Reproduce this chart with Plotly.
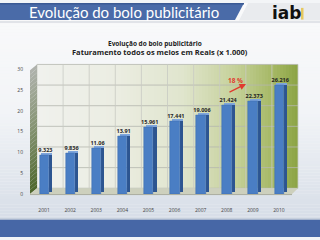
import plotly.graph_objects as go

years = ["2001", "2002", "2003", "2004", "2005", "2006", "2007", "2008", "2009", "2010"]
values = [9.323, 9.836, 11.06, 13.91, 15.961, 17.441, 19.006, 21.424, 22.373, 26.216]
value_labels = ["9.323", "9.836", "11.06", "13.91", "15.961", "17.441", "19.006", "21.424", "22.373", "26.216"]
y_ticks = [0, 5, 10, 15, 20, 25, 30]

W, H = 320, 240
def px(x): return x / W
def py(y): return 1 - y / H

def lerp(c1, c2, t):
    return tuple(int(round(a + (b - a) * t)) for a, b in zip(c1, c2))

def grad(stops, t):
    for (t1, c1), (t2, c2) in zip(stops, stops[1:]):
        if t <= t2:
            return lerp(c1, c2, (t - t1) / (t2 - t1) if t2 > t1 else 0)
    return stops[-1][1]

def rgb(c): return "rgb(%d,%d,%d)" % c

shapes = []
# page background (vertical gradient)
bg_stops = [(0, (250, 250, 251)), (0.5, (242, 244, 247)), (1, (214, 221, 231))]
for i in range(0, 222, 3):
    shapes.append(dict(type="rect", xref="paper", yref="paper", x0=0, x1=1,
                       y0=py(min(i + 3, 222)), y1=py(i), line=dict(width=0),
                       fillcolor=rgb(grad(bg_stops, i / 222)), layer="below"))
# header band
shapes.append(dict(type="path", xref="paper", yref="paper",
                   path="M 0 %f L %f %f L %f %f L 0 %f Z" % (py(0), px(244), py(0), px(235), py(17.5), py(17.5)),
                   fillcolor="#4a6ba8", line=dict(width=0), layer="below"))
shapes.append(dict(type="rect", xref="paper", yref="paper", x0=0, x1=px(244), y0=py(1.5), y1=1,
                   fillcolor="#3b5a94", line=dict(width=0), layer="below"))
shapes.append(dict(type="path", xref="paper", yref="paper",
                   path="M %f %f L 1 %f L 1 %f L %f %f Z" % (px(248), py(0), py(0), py(18), px(239), py(18)),
                   fillcolor="#e9ebee", line=dict(width=0), layer="below"))
shapes.append(dict(type="line", xref="paper", yref="paper", x0=0, x1=1, y0=py(19.5), y1=py(19.5),
                   line=dict(color="#c9ced6", width=1), layer="below"))
# bottom band
shapes.append(dict(type="rect", xref="paper", yref="paper", x0=0, x1=1, y0=0, y1=py(222),
                   fillcolor="#4767a6", line=dict(width=0), layer="below"))
shapes.append(dict(type="line", xref="paper", yref="paper", x0=0, x1=1, y0=py(221.5), y1=py(221.5),
                   line=dict(color="#b8c3d3", width=1), layer="below"))

# back wall gradient
wx0, wx1, wy0, wy1 = 37, 298, 63, 190
wall_stops = [(0, (240, 241, 237)), (0.3, (235, 237, 226)), (0.55, (224, 229, 205)),
              (0.75, (198, 209, 155)), (0.9, (165, 184, 100)), (1, (138, 162, 66))]
step = 3
x = wx0
while x < wx1:
    xe = min(x + step, wx1)
    shapes.append(dict(type="rect", xref="paper", yref="paper", x0=px(x), x1=px(xe),
                       y0=py(wy1), y1=py(wy0), line=dict(width=0),
                       fillcolor=rgb(grad(wall_stops, (x - wx0) / (wx1 - wx0))), layer="below"))
    x = xe
# back wall grid
for v in y_ticks:
    yy = wy1 - v * (wy1 - wy0) / 30
    shapes.append(dict(type="line", xref="paper", yref="paper", x0=px(wx0), x1=px(wx1),
                       y0=py(yy), y1=py(yy), line=dict(color="rgba(180,182,175,0.8)", width=1), layer="below"))
for k in range(11):
    xx = wx0 + k * (wx1 - wx0) / 10
    shapes.append(dict(type="line", xref="paper", yref="paper", x0=px(xx), x1=px(xx),
                       y0=py(wy1), y1=py(wy0), line=dict(color="rgba(200,202,195,0.8)", width=1), layer="below"))
# side wall (left), vertical gradient grey -> dark green
side_stops = [(0, (175, 178, 172)), (0.5, (130, 145, 110)), (1, (75, 100, 40))]
n = 30
for i in range(n):
    t0, t1 = i / n, (i + 1) / n
    bt0, bt1 = wy0 + (wy1 - wy0) * t0, wy0 + (wy1 - wy0) * t1
    shapes.append(dict(type="path", xref="paper", yref="paper",
                       path="M %f %f L %f %f L %f %f L %f %f Z" % (
                           px(37), py(bt0), px(37), py(bt1), px(30), py(bt1 + 6), px(30), py(bt0 + 6)),
                       fillcolor=rgb(grad(side_stops, t0)), line=dict(width=0), layer="below"))
# floor
shapes.append(dict(type="path", xref="paper", yref="paper",
                   path="M %f %f L %f %f L %f %f L %f %f Z" % (
                       px(30), py(196), px(292), py(196), px(298), py(190), px(37), py(190)),
                   fillcolor="#cdd0bd", line=dict(width=0), layer="below"))
shapes.append(dict(type="line", xref="paper", yref="paper", x0=px(30), x1=px(292), y0=py(196.5), y1=py(196.5),
                   line=dict(color="#a9ab9c", width=1), layer="below"))
# iab logo pieces
shapes.append(dict(type="rect", xref="paper", yref="paper", x0=px(301), x1=px(303.5), y0=py(17), y1=py(5),
                   fillcolor="#e6c860", line=dict(width=0)))

xs = list(range(len(years)))
lift = 0.5

fig = go.Figure()
# side faces
fig.add_trace(go.Bar(x=xs, y=values, base=[lift] * len(values), offset=0.19, width=0.12,
                     marker=dict(color="#2d5590", line=dict(width=0)), hoverinfo="skip"))
# top faces
fig.add_trace(go.Bar(x=xs, y=[lift] * len(values), base=values, offset=-0.10, width=0.41,
                     marker=dict(color="#7ea5dc", line=dict(width=0)), hoverinfo="skip"))
# front faces
fig.add_trace(go.Bar(x=xs, y=values, offset=-0.17, width=0.36,
                     marker=dict(color="#4a7ec4", line=dict(color="#3c6db0", width=0.5))))
# value labels
fig.add_trace(go.Scatter(x=[i + 0.05 for i in xs], y=[v + lift for v in values], mode="text",
                         text=["<b>%s</b>" % s for s in value_labels], textposition="top center",
                         textfont=dict(family="Open Sans", size=5.5, color="#1f1f1f"),
                         hoverinfo="skip", cliponaxis=False))

annotations = [
    dict(xref="paper", yref="paper", x=px(27), y=py(9.5), xanchor="left", yanchor="middle",
         text="Evolução do bolo publicitário", showarrow=False,
         font=dict(family="Lato", size=15, color="white")),
    dict(xref="paper", yref="paper", x=px(155), y=py(42), xanchor="center", yanchor="middle",
         text="<b>Evolução do bolo publicitário</b>", showarrow=False,
         font=dict(family="Open Sans", size=6.5, color="#222")),
    dict(xref="paper", yref="paper", x=px(160), y=py(50.5), xanchor="center", yanchor="middle",
         text="<b>Faturamento todos os meios em Reais (x 1.000)</b>", showarrow=False,
         font=dict(family="Open Sans", size=7.5, color="#222")),
    dict(xref="paper", yref="paper", x=px(286), y=py(10.5), xanchor="center", yanchor="middle",
         text="<b>iab</b>", showarrow=False,
         font=dict(family="DejaVu Sans", size=17, color="#111")),
    dict(xref="paper", yref="paper", x=px(246), y=py(83), ax=-18, ay=9, text="", showarrow=True,
         arrowhead=2, arrowsize=1, arrowwidth=1.3, arrowcolor="#e03a2e"),
    dict(xref="paper", yref="paper", x=px(235), y=py(79), xanchor="center", yanchor="middle",
         text="<b>18 %</b>", showarrow=False,
         font=dict(family="Open Sans", size=6.5, color="#e03a2e")),
]

fig.update_layout(
    width=W, height=H, margin=dict(l=0, r=0, t=0, b=0),
    paper_bgcolor="#f3f5f7", plot_bgcolor="rgba(0,0,0,0)",
    barmode="overlay", showlegend=False, bargap=0,
    shapes=shapes, annotations=annotations,
    xaxis=dict(domain=[px(31), px(292)], range=[-0.5, 9.5], tickvals=xs, ticktext=years,
               showgrid=False, zeroline=False, showline=False, ticks="outside", ticklen=11,
               tickcolor="rgba(0,0,0,0)", tickfont=dict(family="Open Sans", size=5, color="#444")),
    yaxis=dict(domain=[py(196), py(68)], range=[0, 30], tickvals=y_ticks,
               showgrid=False, zeroline=False, showline=False, ticks="outside", ticklen=6,
               tickcolor="rgba(0,0,0,0)", tickfont=dict(family="Open Sans", size=5, color="#444")),
)

fig.write_html("out.html")
